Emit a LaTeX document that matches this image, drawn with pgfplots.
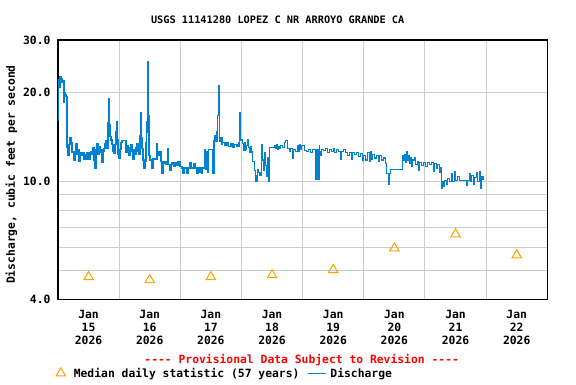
\documentclass[border=0pt]{standalone}
\usepackage{fontspec}
\setmainfont{DejaVu Sans Mono}[Ligatures=TeXOff]
\usepackage{pgfplots}
\pgfplotsset{compat=1.18}
\definecolor{usgsblue}{RGB}{0,130,208}
\definecolor{usgsorange}{RGB}{255,160,0}
\definecolor{gridgray}{RGB}{204,204,204}
\newcommand{\lbl}{\fontsize{11.4}{13}\selectfont\bfseries}
\pgfplotsset{
  medianimg/.style={legend image code/.code={\path[draw=none, fill=none] (0bp,-3bp) rectangle (17bp,3bp); \draw[usgsorange, fill=none, line width=1bp, only marks, mark=triangle, mark size=5.4bp, mark options={fill=none}] plot coordinates {(6bp,0bp)};}},
  flowimg/.style={legend image code/.code={\path[draw=none, fill=none] (0bp,-3bp) rectangle (20bp,3bp); \fill[fill=usgsblue, draw=none] (0bp,-0.7bp) rectangle (17.4bp,0.7bp);}},
}
\begin{document}
\begin{tikzpicture}[x=1bp,y=1bp]
\path[use as bounding box] (0,0) rectangle (576,384);
\begin{axis}[
  at={(58bp,84.7bp)}, anchor=south west,
  scale only axis, width=489.3bp, height=259.3bp,
  xmin=0, xmax=8, ymode=log, ymin=4, ymax=30,
  xtick={0.5,1.5,...,7.5},
  xticklabels={{Jan\\15\\2026},{Jan\\16\\2026},{Jan\\17\\2026},{Jan\\18\\2026},{Jan\\19\\2026},{Jan\\20\\2026},{Jan\\21\\2026},{Jan\\22\\2026}},
  minor xtick={1,2,...,7},
  ytick={4,10,20,30}, yticklabels={4.0,10.0,20.0,30.0},
  minor ytick={5,6,7,8,9},
  xmajorgrids=false, xminorgrids=true, ymajorgrids=true, yminorgrids=true,
  major grid style={draw=gridgray, line width=1bp},
  minor grid style={draw=gridgray, line width=1bp},
  major tick length=0pt, minor tick length=0pt,
  axis line style={line width=1.4bp, black},
  /pgf/number format/assume math mode=true,
  tick label style={font=\lbl},
  xticklabel style={align=center, yshift=-7bp},
  yticklabel style={xshift=-4bp},
  title={USGS 11141280 LOPEZ C NR ARROYO GRANDE CA},
  title style={at={(axis description cs:0.449,1.054)}, anchor=center, font=\fontsize{10.3}{12}\selectfont\bfseries},
  ylabel={Discharge, cubic feet per second},
  ylabel style={at={(axis description cs:-0.095,0.481)}, anchor=center, font=\lbl},
  legend columns=-1,
  legend style={at={(axis description cs:-0.013,-0.285)}, anchor=west, draw=none, fill=none, font=\lbl,
    /tikz/every even column/.append style={column sep=7bp}},
]
\addplot[only marks, mark=triangle, mark size=5.4bp, mark options={draw=usgsorange, line width=1bp, fill=none}, medianimg]
coordinates {(0.5,4.76) (1.5,4.65) (2.5,4.76) (3.5,4.83) (4.5,5.03) (5.5,5.95) (6.5,6.64) (7.5,5.64)};
\addlegendentry{Median daily statistic (57 years)}
\addplot[const plot, usgsblue, line width=1.2bp, flowimg] table {
t v
0.000 16.0
0.007 22.0
0.016 20.8
0.033 22.5
0.049 22.3
0.065 21.6
0.082 21.8
0.098 18.5
0.106 20.0
0.114 19.6
0.131 19.3
0.147 13.0
0.155 12.8
0.163 12.2
0.180 13.3
0.196 14.1
0.212 13.5
0.229 12.5
0.245 12.6
0.261 11.8
0.278 12.5
0.294 13.4
0.310 12.3
0.327 12.8
0.343 11.7
0.360 12.3
0.376 12.5
0.392 12.2
0.409 12.5
0.425 11.9
0.441 12.3
0.458 11.9
0.474 12.5
0.490 11.9
0.507 11.9
0.523 12.5
0.539 12.6
0.556 12.3
0.572 13.0
0.588 11.8
0.605 11.1
0.621 12.8
0.637 13.4
0.654 12.3
0.670 13.1
0.686 12.5
0.703 12.8
0.719 11.6
0.735 12.6
0.752 12.9
0.768 13.4
0.784 13.7
0.801 12.9
0.817 15.8
0.825 19.1
0.833 15.5
0.850 14.2
0.866 13.8
0.882 13.3
0.899 12.6
0.915 12.4
0.931 13.3
0.948 14.7
0.959 15.9
0.964 13.8
0.980 12.3
0.997 12.0
1.013 12.8
1.029 13.5
1.046 13.7
1.095 13.7
1.111 12.5
1.128 13.2
1.144 12.8
1.160 12.2
1.177 13.0
1.193 13.3
1.209 12.6
1.226 11.9
1.242 12.8
1.258 12.3
1.275 13.0
1.291 13.4
1.307 12.6
1.324 12.3
1.340 14.3
1.348 17.1
1.356 14.0
1.373 12.9
1.389 11.8
1.405 11.1
1.422 11.7
1.438 13.5
1.446 14.6
1.454 15.9
1.462 18.3
1.471 25.3
1.482 16.7
1.487 12.2
1.503 11.8
1.520 11.8
1.536 11.1
1.552 11.9
1.585 11.9
1.618 13.4
1.629 12.6
1.642 12.2
1.667 12.6
1.683 11.7
1.699 10.6
1.716 11.5
1.732 11.7
1.765 11.4
1.797 12.9
1.809 11.4
1.830 10.9
1.846 11.4
1.863 11.6
1.895 11.2
1.912 11.6
1.945 11.3
1.961 11.7
1.994 11.2
2.026 11.1
2.043 10.6
2.059 11.1
2.092 11.1
2.108 10.6
2.124 11.1
2.157 11.6
2.173 11.1
2.206 11.1
2.222 11.5
2.239 11.1
2.271 10.6
2.288 11.1
2.320 10.7
2.337 11.1
2.353 10.6
2.369 11.1
2.402 12.8
2.418 11.0
2.435 12.6
2.451 10.7
2.467 12.8
2.533 10.6
2.549 13.7
2.565 14.3
2.582 13.6
2.598 14.7
2.614 16.7
2.631 21.1
2.642 14.2
2.647 13.6
2.663 14.0
2.680 13.3
2.696 13.5
2.729 13.2
2.762 13.5
2.794 13.1
2.827 13.4
2.860 13.0
2.892 13.3
2.925 13.1
2.958 13.5
2.966 14.7
2.974 17.1
2.985 15.8
2.990 13.8
3.023 13.4
3.039 12.7
3.056 13.5
3.072 12.8
3.088 13.2
3.105 13.8
3.121 13.0
3.137 12.5
3.154 13.1
3.170 12.6
3.186 11.7
3.219 10.9
3.235 10.0
3.252 10.5
3.268 11.0
3.284 10.7
3.301 10.5
3.325 13.3
3.350 11.8
3.366 10.9
3.382 12.5
3.399 11.3
3.415 10.4
3.431 12.0
3.443 10.0
3.453 10.9
3.464 13.0
3.546 13.2
3.562 12.9
3.579 13.3
3.595 12.8
3.611 13.1
3.628 12.9
3.644 13.2
3.677 13.0
3.709 13.5
3.726 13.7
3.758 12.9
3.791 12.6
3.807 12.9
3.840 12.0
3.856 12.8
3.889 12.6
3.922 13.2
3.938 12.6
3.954 13.3
3.971 12.8
3.987 13.2
4.036 12.7
4.069 12.6
4.101 12.8
4.134 12.5
4.167 12.8
4.216 10.15
4.222 12.8
4.228 10.15
4.234 12.8
4.240 10.15
4.246 12.8
4.252 10.15
4.258 12.8
4.264 10.15
4.270 13.2
4.281 12.6
4.297 12.2
4.314 12.8
4.346 12.7
4.379 12.9
4.412 12.5
4.445 12.8
4.477 12.6
4.510 12.9
4.526 12.5
4.559 12.8
4.592 12.6
4.624 11.9
4.641 12.6
4.673 12.8
4.706 12.5
4.739 12.2
4.771 12.5
4.804 11.9
4.820 12.5
4.853 12.3
4.886 12.5
4.918 12.1
4.951 12.4
4.984 11.8
5.000 12.2
5.033 11.8
5.065 12.5
5.098 11.7
5.114 12.6
5.131 11.9
5.147 12.3
5.180 12.0
5.212 12.2
5.245 11.7
5.262 12.2
5.294 11.8
5.327 12.0
5.360 11.5
5.376 10.6
5.409 9.8
5.425 10.6
5.441 11.0
5.637 12.2
5.654 11.8
5.670 12.3
5.686 11.6
5.703 12.6
5.719 11.8
5.735 12.2
5.752 11.5
5.768 12.0
5.784 11.2
5.801 11.8
5.833 12.0
5.850 11.4
5.882 11.7
5.899 10.9
5.915 11.6
5.948 11.3
5.980 11.6
6.013 11.2
6.046 11.6
6.079 11.4
6.111 11.6
6.144 10.8
6.160 11.5
6.193 11.1
6.209 11.4
6.242 10.7
6.258 11.1
6.275 9.45
6.291 10.0
6.307 9.6
6.324 10.1
6.356 9.8
6.373 10.2
6.405 10.0
6.438 10.6
6.454 10.0
6.487 10.8
6.503 10.1
6.536 10.4
6.569 10.1
6.650 10.1
6.683 9.7
6.699 10.1
6.732 10.6
6.748 10.0
6.765 10.5
6.797 9.8
6.814 10.3
6.847 10.7
6.863 10.0
6.896 10.8
6.912 9.45
6.928 10.4
6.950 10.1
};
\addlegendentry{Discharge}
\end{axis}
\node[text=red, font=\lbl] at (301.7,24) {---- Provisional Data Subject to Revision ----};
\end{tikzpicture}
\end{document}
